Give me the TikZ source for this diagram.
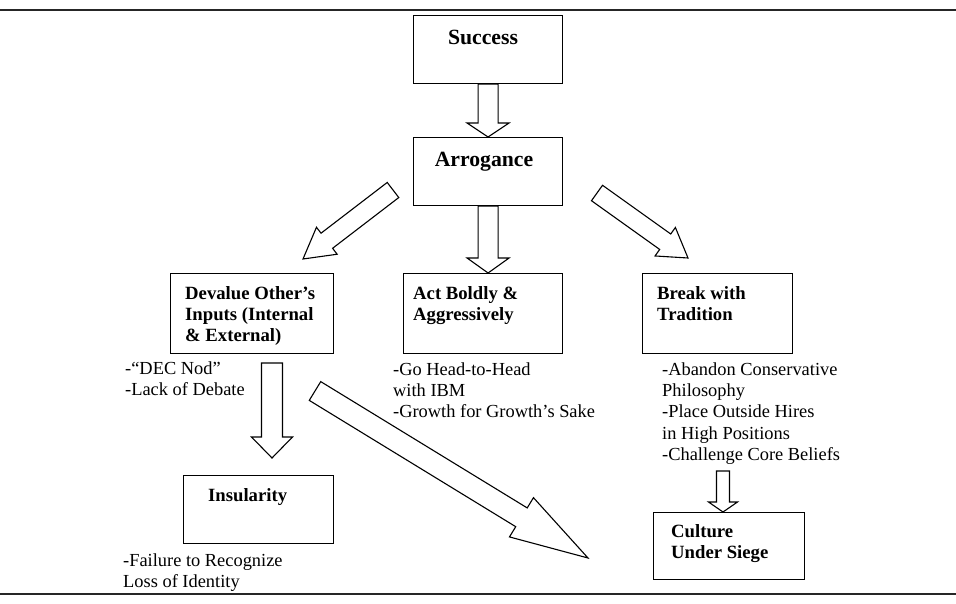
\documentclass[tikz,border=0pt]{standalone}
\usepackage{fontspec}
\setmainfont{Liberation Serif}
\usetikzlibrary{calc}
\tikzset{
  box/.style={draw=black, line width=1.1pt, inner sep=0pt, anchor=north west},
  blockline/.style={draw=black, line width=1.1pt, line join=miter, fill=white},
  titletext/.style={inner sep=0pt, font=\fontsize{21.7}{26}\selectfont\bfseries},
  boxtext/.style={inner sep=0pt, anchor=base west, font=\fontsize{18.7}{21}\selectfont\bfseries},
  bullettext/.style={inner sep=0pt, anchor=base west, font=\fontsize{18.4}{21.4}\selectfont},
  rule/.style={draw=black!85, line width=2pt}
}
% #1 tail, #2 tip, #3 shaft half width, #4 head half width, #5 head length
\newcommand{\blockarrow}[5]{%
  \path ($(#2)!#5!(#1)$) coordinate (bah);
  \draw[blockline] ($(#1)!#3!90:(#2)$) -- ($(bah)!#3!90:(#2)$) -- ($(bah)!#4!90:(#2)$)
    -- (#2) -- ($(bah)!#4!-90:(#2)$) -- ($(bah)!#3!-90:(#2)$) -- ($(#1)!#3!-90:(#2)$) -- cycle;
}
\begin{document}
\begin{tikzpicture}[x=1pt,y=-1pt]
\useasboundingbox (0,0) rectangle (956,604);
% rules
\coordinate (tl) at (0,10); \coordinate (tr) at (956,10);
\coordinate (bl) at (0,594); \coordinate (br) at (956,594);
\draw[rule] (tl) -- (tr);
\draw[rule] (bl) -- (br);

% boxes
\node[box, minimum width=149pt, minimum height=68pt] (success) at (413,15) {};
\node[box, minimum width=149pt, minimum height=68pt] (arrogance) at (413,137) {};
\node[box, minimum width=163pt, minimum height=80pt] (devalue) at (170,273) {};
\node[box, minimum width=159pt, minimum height=80pt] (act) at (403,273) {};
\node[box, minimum width=150pt, minimum height=80pt] (break) at (642,273) {};
\node[box, minimum width=150pt, minimum height=68pt] (insularity) at (183,475) {};
\node[box, minimum width=151pt, minimum height=67pt] (culture) at (653,512) {};

% box texts
\node[titletext, anchor=base] (success-t) at (483,45) {Success};
\node[titletext, anchor=base] (arrogance-t) at (484,167) {Arrogance};
\node[boxtext] (devalue-t) at (185,299) {\begin{tabular}[t]{@{}l@{}}Devalue Other’s\\Inputs (Internal\\\& External)\end{tabular}};
\node[boxtext] (act-t) at (413,299) {\begin{tabular}[t]{@{}l@{}}Act Boldly \&\\Aggressively\end{tabular}};
\node[boxtext] (break-t) at (657,299) {\begin{tabular}[t]{@{}l@{}}Break with\\Tradition\end{tabular}};
\node[boxtext] (insularity-t) at (208,501) {Insularity};
\node[boxtext] (culture-t) at (671,537) {\begin{tabular}[t]{@{}l@{}}Culture\\Under Siege\end{tabular}};

% bullet texts
\node[bullettext] (devalue-b) at (125,374) {\begin{tabular}[t]{@{}l@{}}-“DEC Nod”\\-Lack of Debate\end{tabular}};
\node[bullettext] (act-b) at (393,375) {\begin{tabular}[t]{@{}l@{}}-Go Head-to-Head\\with IBM\\-Growth for Growth’s Sake\end{tabular}};
\node[bullettext] (break-b) at (662,375) {\begin{tabular}[t]{@{}l@{}}-Abandon Conservative\\Philosophy\\-Place Outside Hires\\in High Positions\\-Challenge Core Beliefs\end{tabular}};
\node[bullettext] (insularity-b) at (123,566) {\begin{tabular}[t]{@{}l@{}}-Failure to Recognize\\Loss of Identity\end{tabular}};

% arrow end points
\coordinate (la1) at (393,190); \coordinate (la2) at (303,259);
\coordinate (ra1) at (597,193); \coordinate (ra2) at (688,258);
\coordinate (da1) at (272,363); \coordinate (da2) at (272,458);
\coordinate (ba1) at (315,391); \coordinate (ba2) at (588,558);
\coordinate (ca1) at (723,471); \coordinate (ca2) at (723,512);
\coordinate (mt) at (arrogance.south |- act.north);

% block arrows
\blockarrow{success.south}{arrogance.north}{10pt}{21pt}{14pt}
\blockarrow{arrogance.south}{mt}{10pt}{21pt}{15pt}
\blockarrow{la1}{la2}{9.5pt}{17pt}{30pt}
\blockarrow{ra1}{ra2}{9.5pt}{17.5pt}{28pt}
\blockarrow{da1}{da2}{10.5pt}{20.5pt}{21pt}
\blockarrow{ba1}{ba2}{11pt}{23pt}{78pt}
\blockarrow{ca1}{ca2}{6.5pt}{14.5pt}{10pt}
\end{tikzpicture}
\end{document}
